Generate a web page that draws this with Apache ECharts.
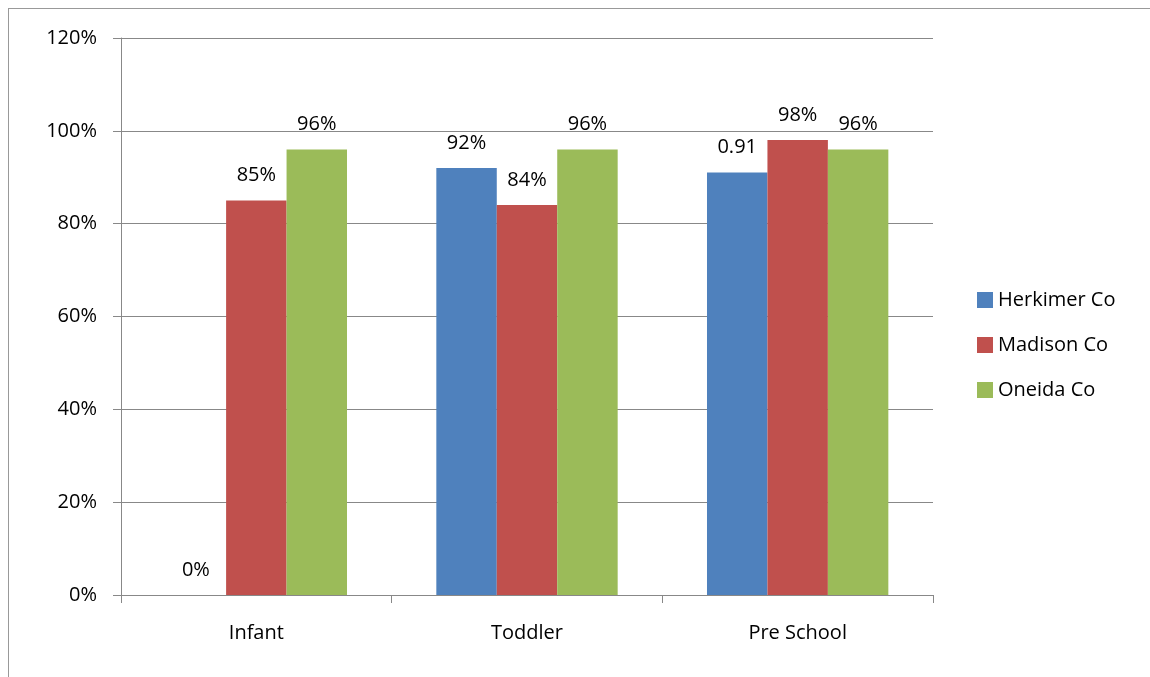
<!DOCTYPE html>
<html>
<head>
<meta charset="utf-8">
<script src="https://cdn.jsdelivr.net/npm/echarts@6/dist/echarts.min.js"></script>
<style>
  html, body { margin: 0; padding: 0; background: #fff; }
  #frame { position: absolute; left: 8px; top: 8px; width: 1150px; height: 677px; border-left: 1px solid #999; border-top: 1px solid #999; }
  #chart { position: absolute; left: 0; top: 0; width: 1150px; height: 677px; }
</style>
</head>
<body>
<div id="frame"></div>
<div id="chart"></div>
<script>
const categories = ['Infant', 'Toddler', 'Pre School']
const herkimer = [0, 0.92, 0.91]
const madison = [0.85, 0.84, 0.98]
const oneida = [0.96, 0.96, 0.96]
// labels as printed in the original (one shows a raw decimal)
const herkimerLabels = ['0%', '92%', '0.91']
const madisonLabels = ['85%', '84%', '98%']
const oneidaLabels = ['96%', '96%', '96%']

const font = 'Open Sans, Liberation Sans, sans-serif'
const mk = (name, data, labels, color) => ({
  name: name,
  type: 'bar',
  data: data,
  barGap: 0,
  barCategoryGap: '33%',
  itemStyle: { color: color },
  label: {
    show: true, position: 'top', distance: 15,
    color: '#000', fontSize: 20, fontFamily: font,
    formatter: (p) => labels[p.dataIndex]
  }
})

const myChart = echarts.init(document.getElementById('chart'))
const option = {
  animation: false,
  grid: { left: 121, right: 217, top: 38, bottom: 82 },
  legend: {
    orient: 'vertical', left: 972, top: 285,
    itemWidth: 16, itemHeight: 16, itemGap: 25,
    icon: 'rect',
    textStyle: { fontSize: 20, fontFamily: font, color: '#000' },
    data: ['Herkimer Co', 'Madison Co', 'Oneida Co']
  },
  xAxis: {
    type: 'category', data: categories,
    axisLine: { lineStyle: { color: '#888' } },
    axisTick: { show: true, length: 8, lineStyle: { color: '#888' } },
    axisLabel: { fontSize: 20, fontFamily: font, color: '#000', margin: 28 }
  },
  yAxis: {
    type: 'value', min: 0, max: 1.2, interval: 0.2,
    axisLine: { show: true, lineStyle: { color: '#888' } },
    axisTick: { show: true, length: 8, lineStyle: { color: '#888' } },
    splitLine: { lineStyle: { color: '#888' } },
    axisLabel: {
      fontSize: 20, fontFamily: font, color: '#000', margin: 24,
      formatter: (v) => Math.round(v * 100) + '%'
    }
  },
  series: [
    mk('Herkimer Co', herkimer, herkimerLabels, '#4f81bd'),
    mk('Madison Co', madison, madisonLabels, '#c0504d'),
    mk('Oneida Co', oneida, oneidaLabels, '#9bbb59')
  ]
}
myChart.setOption(option, true)
</script>
</body>
</html>
